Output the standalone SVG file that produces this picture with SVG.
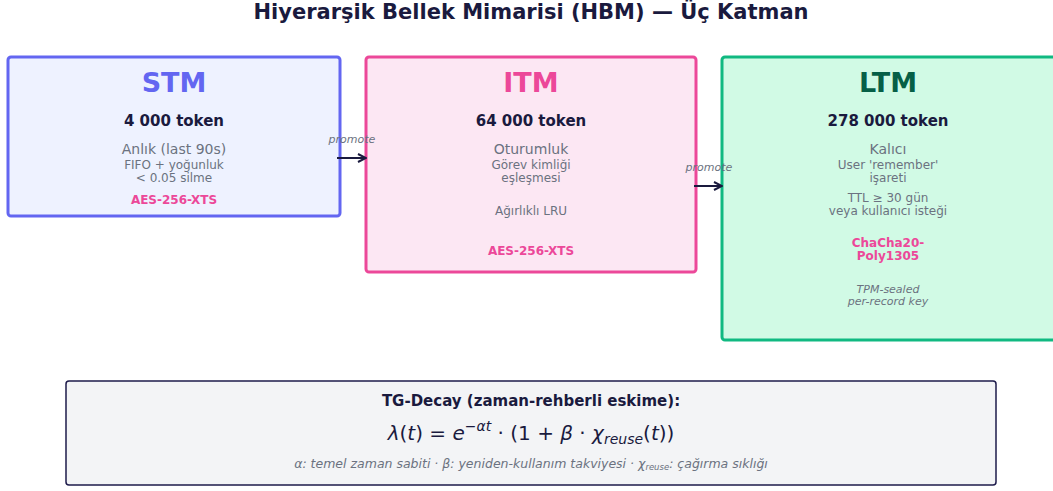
<svg xmlns="http://www.w3.org/2000/svg" width="1053" height="491" viewBox="0 0 1053 491">
<style>
text{font-family:"DejaVu Sans","Noto Sans",sans-serif;text-anchor:middle}
.title{font-size:21px;font-weight:bold;fill:#1a1a3e}
.h{font-size:27px;font-weight:bold}
.tok{font-size:15px;font-weight:bold;fill:#1a1a3e}
.sub{font-size:14px;fill:#6b7280}
.d{font-size:12px;fill:#6b7280}
.enc{font-size:12px;font-weight:bold;fill:#ec4899}
.it{font-size:11px;font-style:italic;fill:#6b7280}
.conn{stroke:#1a1a3e;stroke-width:2;fill:none}
.math{font-size:20px;fill:#1a1a3e}
.i{font-style:italic}
</style>
<defs>
<marker id="ah" viewBox="0 0 10 10" refX="9" refY="5" markerWidth="5" markerHeight="5" orient="auto">
<path d="M1,1 L9,5 L1,9" fill="none" stroke="#1a1a3e" stroke-width="2"/>
</marker>
</defs>
<rect width="1053" height="491" fill="#ffffff"/>
<text class="title" x="531" y="19">Hiyerarşik Bellek Mimarisi (HBM) — Üç Katman</text>

<g id="stm">
<rect x="8" y="57" width="332" height="159" rx="3" fill="#eef2ff" stroke="#6366f1" stroke-width="3"/>
<text class="h" x="174" y="92" fill="#6366f1">STM</text>
<text class="tok" x="174" y="126">4 000 token</text>
<text class="sub" x="174" y="154">Anlık (last 90s)</text>
<text class="d" x="174" y="169">FIFO + yoğunluk</text>
<text class="d" x="174" y="182">&lt; 0.05 silme</text>
<text class="enc" x="174" y="204">AES-256-XTS</text>
</g>

<g id="itm">
<rect x="366" y="57" width="330" height="215" rx="3" fill="#fce7f3" stroke="#ec4899" stroke-width="3"/>
<text class="h" x="531" y="92" fill="#ec4899">ITM</text>
<text class="tok" x="531" y="126">64 000 token</text>
<text class="sub" x="531" y="154">Oturumluk</text>
<text class="d" x="531" y="169">Görev kimliği</text>
<text class="d" x="531" y="182">eşleşmesi</text>
<text class="d" x="531" y="215">Ağırlıklı LRU</text>
<text class="enc" x="531" y="255">AES-256-XTS</text>
</g>

<g id="ltm">
<rect x="722" y="57" width="340" height="283" rx="3" fill="#d1fae5" stroke="#10b981" stroke-width="3"/>
<text class="h" x="888" y="92" fill="#065f46">LTM</text>
<text class="tok" x="888" y="126">278 000 token</text>
<text class="sub" x="888" y="154">Kalıcı</text>
<text class="d" x="888" y="169">User 'remember'</text>
<text class="d" x="888" y="182">işareti</text>
<text class="d" x="888" y="202">TTL ≥ 30 gün</text>
<text class="d" x="888" y="215">veya kullanıcı isteği</text>
<text class="enc" x="888" y="247">ChaCha20-</text>
<text class="enc" x="888" y="260">Poly1305</text>
<text class="it" x="888" y="293">TPM-sealed</text>
<text class="it" x="888" y="305">per-record key</text>
</g>

<g id="connectors">
<line class="conn" x1="337" y1="158" x2="366" y2="158" marker-end="url(#ah)"/>
<text class="it" x="352" y="143">promote</text>
<line class="conn" x1="694" y1="186" x2="722" y2="186" marker-end="url(#ah)"/>
<text class="it" x="709" y="171">promote</text>
</g>

<g id="tgdecay">
<rect x="66" y="381" width="930" height="104" rx="3" fill="#f3f4f6" stroke="#1e1b4b" stroke-width="1.5"/>
<text x="531" y="406" style="font-size:15px;font-weight:bold;fill:#1a1a3e">TG-Decay (zaman-rehberli eskime):</text>
<text class="math" x="531" y="440"><tspan class="i">λ</tspan>(<tspan class="i">t</tspan>) = <tspan class="i">e</tspan><tspan class="i" dy="-9" style="font-size:14px">−αt</tspan><tspan dy="9"> · (1 + </tspan><tspan class="i">β</tspan> · <tspan class="i">χ</tspan><tspan class="i" dy="4" style="font-size:14px">reuse</tspan><tspan dy="-4">(</tspan><tspan class="i">t</tspan>))</text>
<text x="531" y="468" style="font-size:12.5px;font-style:italic;fill:#6b7280">α: temel zaman sabiti  ·  β: yeniden-kullanım takviyesi  ·  χ<tspan dy="2" style="font-size:8.5px">reuse</tspan><tspan dy="-2">: çağırma sıklığı</tspan></text>
</g>
</svg>
